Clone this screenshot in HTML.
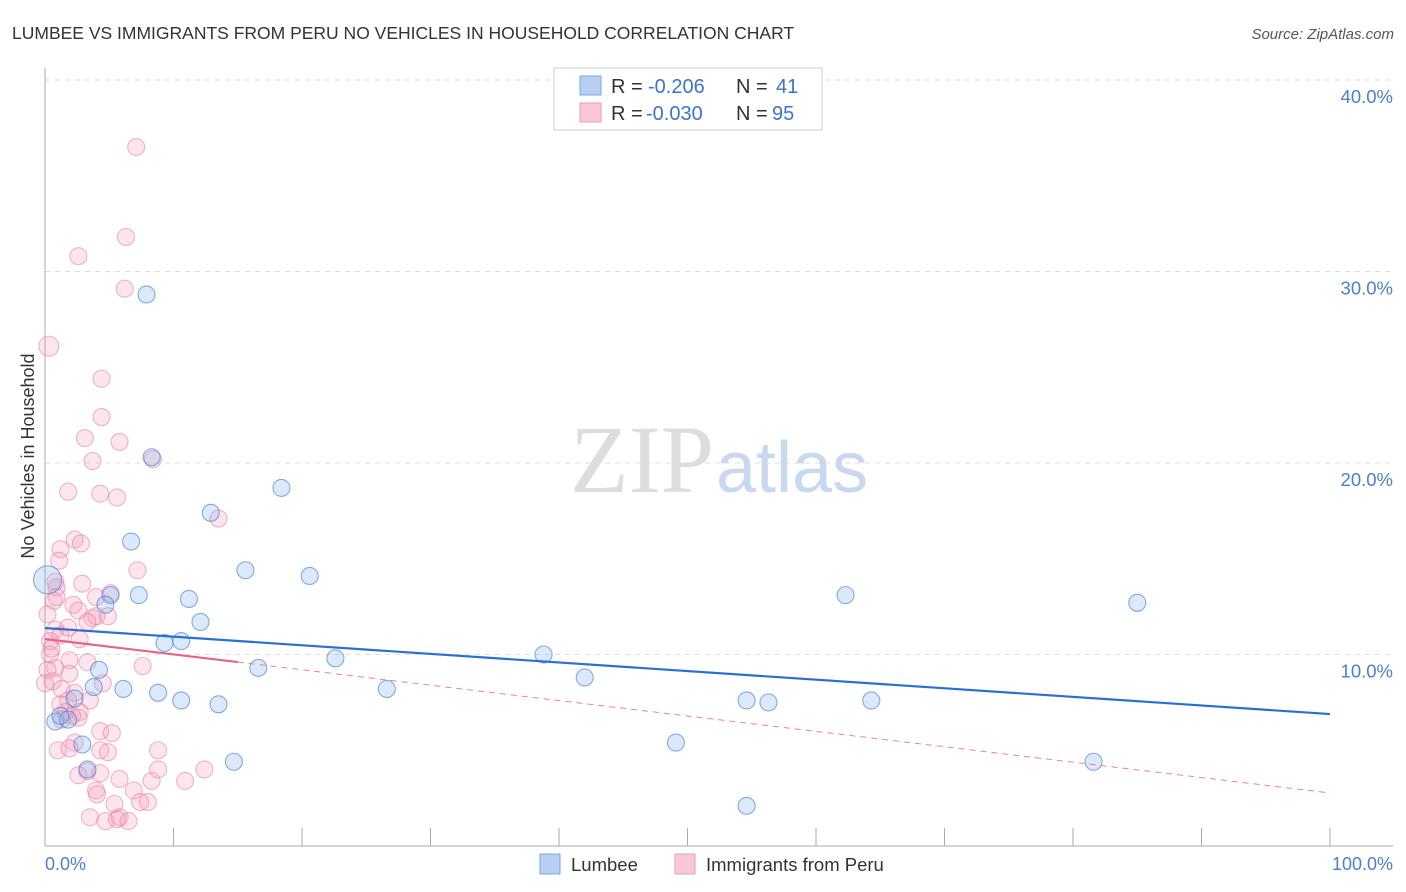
<!DOCTYPE html>
<html><head><meta charset="utf-8"><style>
body{margin:0;background:#fff;font-family:"Liberation Sans",sans-serif}
svg{display:block}
</style></head><body>
<svg width="1406" height="892" xmlns="http://www.w3.org/2000/svg" id="chart">
<text x="12" y="39" font-size="17.5" fill="#333">LUMBEE VS IMMIGRANTS FROM PERU NO VEHICLES IN HOUSEHOLD CORRELATION CHART</text>
<text x="1394" y="39" font-size="15" fill="#555" font-style="italic" text-anchor="end">Source: ZipAtlas.com</text>
<text x="714" y="492" font-size="96" fill="#ddd" font-family="Liberation Serif,serif" text-anchor="end">ZIP</text>
<text x="716" y="492" font-size="72" fill="#c8d8f0">atlas</text>
<g id="grid"></g>
<g id="axes"></g>
<g id="pts"></g>
<g id="lines"></g>
<text transform="translate(34,456) rotate(-90)" font-size="18" fill="#333" text-anchor="middle">No Vehicles in Household</text>
<text x="45" y="870" font-size="18" fill="#4a7fd4">0.0%</text>
<text x="1393" y="870" font-size="18" fill="#4a7fd4" text-anchor="end">100.0%</text>
<g>
<rect x="554" y="68" width="268" height="62" fill="#fff" stroke="#ccc"/>
<rect x="580" y="76" width="21" height="19" fill="#b8d0f0" stroke="#7aa6e0"/>
<text y="93" font-size="20" fill="#333"><tspan x="611">R =</tspan><tspan x="648" fill="#3b73d1">-0.206</tspan><tspan x="736">N =</tspan><tspan x="776" fill="#3b73d1">41</tspan></text>
<rect x="580" y="103" width="21" height="19" fill="#f9c8d8" stroke="#f09ab8"/>
<text y="120" font-size="20" fill="#333"><tspan x="611">R =</tspan><tspan x="646" fill="#3b73d1">-0.030</tspan><tspan x="736">N =</tspan><tspan x="772" fill="#3b73d1">95</tspan></text>
</g>
<g><rect x="540" y="854" width="20" height="20" fill="#b8d0f0" stroke="#7aa6e0"/><text x="571" y="871" font-size="18.5" fill="#333">Lumbee</text></g>
<g><rect x="675" y="854" width="20" height="20" fill="#f9c8d8" stroke="#f09ab8"/><text x="706" y="871" font-size="18.5" fill="#333">Immigrants from Peru</text></g>
</svg>
<script>
const yTicks=[10,20,30,40];
const yTickLabels=["10.0%","20.0%","30.0%","40.0%"];
const xTicks=[0,10,20,30,40,50,60,70,80,90,100];
const lumbeeX=[7.9,8.3,12.9,18.4,6.7,15.6,20.6,7.3,11.2,5.1,4.7,12.1,9.3,10.6,16.6,22.6,38.8,42.0,26.6,4.2,3.8,6.1,8.8,10.6,13.5,2.3,0.8,1.8,2.9,3.3,14.7,49.1,54.6,56.3,64.3,54.6,81.6,85.0,62.3,0.2,1.2];
const lumbeeY=[28.8,20.3,17.4,18.7,15.9,14.4,14.1,13.1,12.9,13.1,12.6,11.7,10.6,10.7,9.3,9.8,10.0,8.8,8.2,9.2,8.3,8.2,8.0,7.6,7.4,7.7,6.5,6.6,5.3,4.0,4.4,5.4,7.6,7.5,7.6,2.1,4.4,12.7,13.1,13.9,6.8];
const peruX=[7.1,6.3,2.6,6.2,0.3,4.4,4.4,3.1,5.8,3.7,8.4,1.8,4.3,5.6,13.5,1.2,2.3,2.8,7.2,0.9,2.9,3.97,5.1,2.2,2.6,0.7,4.9,3.7,4.0,3.3,0.8,1.8,1.2,0.4,0.5,1.9,3.3,7.6,0.8,1.9,0.2,0.6,1.3,1.8,2.3,1.6,2.7,2.6,2.1,4.3,1.2,5.2,2.3,1.9,4.3,4.9,8.8,2.6,3.3,4.3,5.8,6.9,8.3,10.9,12.4,8.8,3.97,4.05,5.4,7.4,8.0,3.5,4.7,5.8,6.5,5.6,1.1,0.8,0.9,0.4,0.0,1.0,1.3,3.5,4.5,2.7,0.2];
const peruY=[36.5,31.8,30.8,29.1,26.1,24.4,22.4,21.3,21.1,20.1,20.2,18.5,18.4,18.2,17.1,15.5,16.0,15.8,14.4,13.5,13.7,13.0,13.2,12.6,12.3,12.8,12.0,11.9,12.0,11.7,11.3,11.4,11.0,10.7,10.3,9.7,9.6,9.4,9.3,9.0,9.2,8.6,8.2,7.6,8.0,7.0,7.0,6.7,6.8,6.0,7.4,5.9,5.4,5.1,5.0,4.9,5.0,3.7,3.9,3.8,3.5,2.9,3.4,3.4,4.0,4.0,2.9,2.7,2.2,2.3,2.3,1.5,1.3,1.5,1.3,1.4,14.9,13.8,13.0,10.0,8.5,5.0,6.6,7.6,8.5,10.8,12.1];
const lumbeeFit=[11.38,6.89];
const peruFit=[10.81,2.77];
const peruSolidEnd=15;
const X0=45,X1=1330,Y0=846,PY=19.15;
const xs=v=>X0+(X1-X0)*v/100, ys=v=>Y0-v*PY;
const NS="http://www.w3.org/2000/svg";
function mk(tag,attrs,parent){const e=document.createElementNS(NS,tag);for(const k in attrs)e.setAttribute(k,attrs[k]);document.getElementById(parent).appendChild(e);return e;}
yTicks.forEach((t,i)=>{
 const g=mk('line',{x1:X0,x2:1393,y1:ys(t),y2:ys(t),stroke:'#ddd','stroke-dasharray':'5,5'},'grid');
 
 
 const l=mk('text',{x:1393,y:ys(t)+23,'font-size':18.5,fill:'#4a7fd4','text-anchor':'end'},'grid');
 l.textContent=yTickLabels[i];
 
 
});
const ya=mk('line',{x1:X0,x2:X0,y1:68,y2:Y0,stroke:'#aaa'},'axes');


const xa=mk('line',{x1:X0,x2:1393,y1:Y0,y2:Y0,stroke:'#aaa'},'axes');


xTicks.forEach(t=>{
 const e=mk('line',{x1:xs(t),x2:xs(t),y1:828,y2:Y0,stroke:'#aaa'},'axes');
 
 
});
peruX.forEach((x,i)=>{
 const c=mk('circle',{cx:xs(x),cy:ys(peruY[i]),r:(i==4?10:8.5),fill:'rgba(244,150,182,0.25)',stroke:'rgba(236,120,160,0.55)','stroke-width':1.1},'pts');
 
 
});
lumbeeX.forEach((x,i)=>{
 const c=mk('circle',{cx:xs(x),cy:ys(lumbeeY[i]),r:(i==39?14:8.5),fill:'rgba(130,175,232,0.28)',stroke:'rgba(70,130,215,0.65)','stroke-width':1.1},'pts');
 
 
});
const lf=mk('line',{x1:xs(0),y1:ys(lumbeeFit[0]),x2:xs(100),y2:ys(lumbeeFit[1]),stroke:'#2b6fd6','stroke-width':2.2},'lines');


const pm=v=>peruFit[0]+(peruFit[1]-peruFit[0])*v/100;
const ps=mk('line',{x1:xs(0),y1:ys(peruFit[0]),x2:xs(peruSolidEnd),y2:ys(pm(peruSolidEnd)),stroke:'#e8618f','stroke-width':2.2},'lines');


const pd=mk('line',{x1:xs(peruSolidEnd),y1:ys(pm(peruSolidEnd)),x2:xs(100),y2:ys(peruFit[1]),stroke:'#e8819f','stroke-width':1,'stroke-dasharray':'6,5'},'lines');


</script>
</body></html>
